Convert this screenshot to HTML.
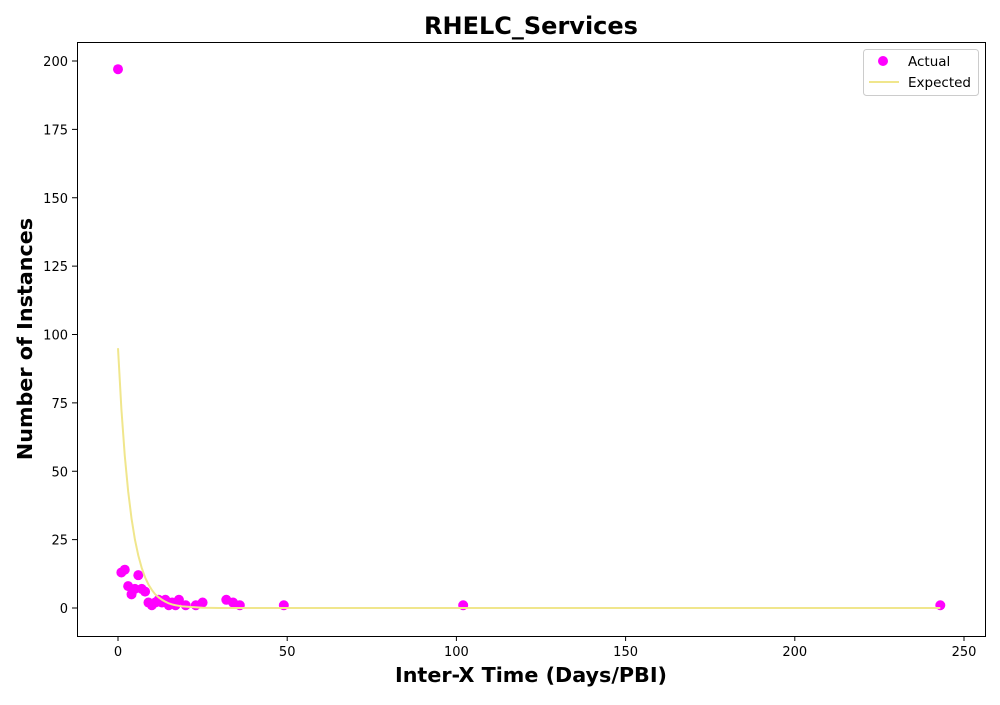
<!DOCTYPE html>
<html><head><meta charset="utf-8"><style>
body{margin:0;background:#fff;}
svg text{font-family:"DejaVu Sans","Liberation Sans",sans-serif;}
</style></head><body>
<svg id="chart" width="1000" height="700" xmlns="http://www.w3.org/2000/svg">
<rect width="1000" height="700" fill="#fff"/>
<text x="531" y="34" text-anchor="middle" font-size="24" font-weight="bold">RHELC_Services</text>
<g id="marks"></g>
<rect x="77.5" y="42.5" width="908" height="594" fill="none" stroke="#000" stroke-width="1"/>
<g id="axes"></g>
<text x="531" y="682" text-anchor="middle" font-size="20.7" font-weight="bold">Inter-X Time (Days/PBI)</text>
<text transform="translate(32,339) rotate(-90)" text-anchor="middle" font-size="20.7" font-weight="bold">Number of Instances</text>
<g>
<rect x="863.5" y="49.5" width="115" height="46" rx="3" fill="#fff" stroke="#ccc"/>
<circle cx="883" cy="61" r="5" fill="#ff00ff"/>
<text x="908" y="66" font-size="13.5">Actual</text>
<line x1="869" y1="82" x2="899" y2="82" stroke="#f0e68c" stroke-width="2"/>
<text x="908" y="87" font-size="13.5">Expected</text>
</g>
</svg>
<script>
const actualX=[0,1,2,3,4,5,6,7,8,9,10,11,12,13,14,15,16,17,18,20,23,25,32,34,36,49,102,243];
const actualY=[197,13,14,8,5,7,12,7,6,2,1,2,3,2,3,1,2,1,3,1,1,2,3,2,1,1,1,1];
const expectedX=[0,1,2,3,4,5,6,7,8,9,10,11,12,13,14,15,16,17,18,19,20,25,30,243];
const expectedY=[95,72.8,55.7,42.7,32.7,25,19.2,14.7,11.2,8.6,6.6,5,3.9,3,2.3,1.7,1.3,1,0.8,0.6,0.5,0.1,0,0];
const xTicks=[0,50,100,150,200,250];
const yTicks=[0,25,50,75,100,125,150,175,200];
const NS="http://www.w3.org/2000/svg";
function sx(v){return 118+v*(964-118)/250;}
function sy(v){return 608-v*(608-61)/200;}
const marks=document.getElementById('marks');
const axes=document.getElementById('axes');
actualX.forEach((x,i)=>{
 const c=document.createElementNS(NS,'circle');
 c.setAttribute('cx',sx(x));c.setAttribute('cy',sy(actualY[i]));c.setAttribute('r',5);c.setAttribute('fill','#ff00ff');
 
 
 marks.appendChild(c);
});
const p=document.createElementNS(NS,'polyline');
p.setAttribute('points',expectedX.map((x,i)=>sx(x)+','+sy(expectedY[i])).join(' '));
p.setAttribute('fill','none');p.setAttribute('stroke','#f0e68c');p.setAttribute('stroke-width','2');


marks.appendChild(p);
xTicks.forEach(t=>{
 const l=document.createElementNS(NS,'line');
 l.setAttribute('x1',sx(t));l.setAttribute('x2',sx(t));l.setAttribute('y1',636);l.setAttribute('y2',641);l.setAttribute('stroke','#000');
 
 
 axes.appendChild(l);
 const tx=document.createElementNS(NS,'text');
 tx.setAttribute('x',sx(t));tx.setAttribute('y',656);tx.setAttribute('text-anchor','middle');tx.setAttribute('font-size','13');
 tx.textContent=t;
 
 
 axes.appendChild(tx);
});
yTicks.forEach(t=>{
 const l=document.createElementNS(NS,'line');
 l.setAttribute('x1',72);l.setAttribute('x2',77);l.setAttribute('y1',sy(t));l.setAttribute('y2',sy(t));l.setAttribute('stroke','#000');
 
 
 axes.appendChild(l);
 const tx=document.createElementNS(NS,'text');
 tx.setAttribute('x',68);tx.setAttribute('y',sy(t)+5);tx.setAttribute('text-anchor','end');tx.setAttribute('font-size','13');
 tx.textContent=t;
 
 
 axes.appendChild(tx);
});
</script>
</body></html>
